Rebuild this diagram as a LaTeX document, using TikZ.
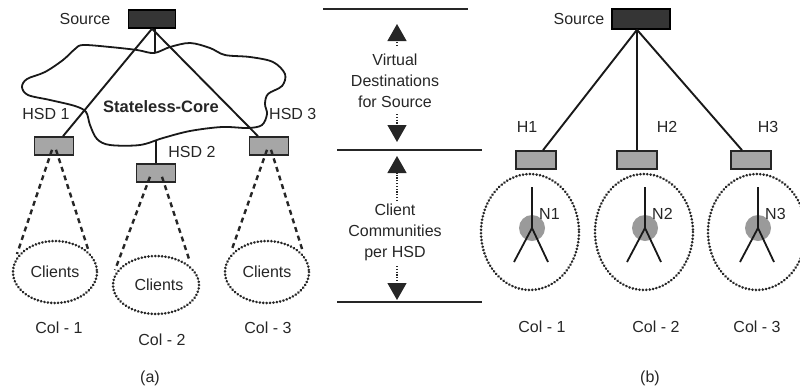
\documentclass[tikz,border=0pt]{standalone}
\usepackage{fontspec}
\setmainfont{Liberation Sans}
\usetikzlibrary{arrows.meta}
\definecolor{txt}{HTML}{262626}
\definecolor{srcfill}{HTML}{353535}
\definecolor{hfill}{HTML}{A6A6A6}
\definecolor{nfill}{HTML}{9A9A9A}
\tikzset{
  lbl/.style={font=\fontsize{16}{21}\selectfont, text=txt, inner sep=0pt, align=center},
  srcbox/.style={draw=black, line width=1.5pt, fill=srcfill, minimum width=47pt, minimum height=18pt, inner sep=0pt},
  hbox/.style={draw=black!85, line width=1.6pt, fill=hfill, minimum width=39pt, minimum height=18pt, inner sep=0pt},
  link/.style={line width=1.9pt, black!90},
  dashlink/.style={line width=2.4pt, black!85, dash pattern=on 5pt off 4pt},
  dotring/.style={line width=2.9pt, black!85, line cap=round, dash pattern=on 0.01pt off 3.4pt},
  nodedot/.style={circle, fill=nfill, minimum size=26pt, inner sep=0pt},
  leg/.style={line width=1.8pt, black!90},
  sep/.style={line width=1.5pt, black!85},
  varrow/.style={line width=1.3pt, black!85, dash pattern=on 1.2pt off 1.6pt, -{Triangle[width=19pt,length=17pt,sep=0pt]}},
}
\begin{document}
\begin{tikzpicture}[x=1pt,y=-1pt]
\useasboundingbox (0,0) rectangle (800,389);
% ---------------- (a) ----------------
\draw[line width=1.8pt, black!90] plot[smooth cycle, tension=0.55] coordinates {
 (83,45) (110,47) (137,50) (154,53) (170,47) (190,43) (210,48) (225,55) (250,57)
 (273,62) (285,74) (282,86) (268,94) (265,104) (267,114) (262,125) (248,128)
 (222,127) (190,131) (163,138) (140,145) (110,145) (97,139) (90,125) (86,112)
 (75,106) (50,100) (28,95) (22,87) (27,79) (45,72) (63,60) (75,49)};
\node[srcbox] (srcA) at (152,19) {};
\node[lbl] (srcAlbl) at (85,19) {Source};
\node[lbl, font=\fontsize{16.5}{21}\selectfont\bfseries] (core) at (161,107) {Stateless-Core};
\node[hbox] (hsd1) at (54,146) {};
\node[hbox] (hsd2) at (156,173) {};
\node[hbox] (hsd3) at (269,146) {};
\node[lbl] (l1) at (46,114) {HSD 1};
\node[lbl] (l2) at (192,152) {HSD 2};
\node[lbl, anchor=west] (l3) at (269,114) {HSD 3};
\coordinate (cloudtop) at (155,53);
\coordinate (cloudbot) at (156,140);
\draw[link] (srcA.south) -- ([xshift=9pt]hsd1.north);
\draw[link] (srcA.south) -- ([xshift=-11pt]hsd3.north);
\draw[link] ([xshift=3pt]srcA.south) -- (cloudtop);
\draw[link] (hsd2.north) -- (cloudbot);
% client ellipses
\draw[dotring] (55,272) ellipse [x radius=42, y radius=31];
\draw[dotring] (156,285) ellipse [x radius=43, y radius=29];
\draw[dotring] (267,272) ellipse [x radius=42, y radius=31];
\node[lbl] (c1) at (55,272) {Clients};
\node[lbl] (c2) at (159,285) {Clients};
\node[lbl] (c3) at (267,272) {Clients};
\coordinate (e1l) at (17,254);
\coordinate (e1r) at (88,249);
\coordinate (e2l) at (115,270);
\coordinate (e2r) at (189,259);
\coordinate (e3l) at (232,249);
\coordinate (e3r) at (303,252);
\draw[dashlink] ([yshift=6pt,xshift=-2pt]hsd1.south) -- (e1l);
\draw[dashlink] ([yshift=6pt,xshift=2pt]hsd1.south) -- (e1r);
\draw[dashlink] ([yshift=6pt,xshift=-6pt]hsd2.south) -- (e2l);
\draw[dashlink] ([yshift=6pt,xshift=6pt]hsd2.south) -- (e2r);
\draw[dashlink] ([yshift=6pt,xshift=-2pt]hsd3.south) -- (e3l);
\draw[dashlink] ([yshift=6pt,xshift=2pt]hsd3.south) -- (e3r);
\node[lbl] (col1a) at (59,328) {Col - 1};
\node[lbl] (col2a) at (162,340) {Col - 2};
\node[lbl] (col3a) at (268,328) {Col - 3};
\node[lbl] (capa) at (150,378) {(a)};
% ---------------- middle ----------------
\coordinate (s1a) at (323,9); \coordinate (s1b) at (468,9);
\coordinate (s2a) at (337,150); \coordinate (s2b) at (482,150);
\coordinate (s3a) at (337,302); \coordinate (s3b) at (482,302);
\draw[sep] (s1a) -- (s1b);
\draw[sep] (s2a) -- (s2b);
\draw[sep] (s3a) -- (s3b);
\node[lbl] (vd) at (395,81) {Virtual\\Destinations\\for Source};
\node[lbl] (cc) at (395,232) {Client\\Communities\\per HSD};
\coordinate (a1s) at (397,46); \coordinate (a1e) at (397,24);
\coordinate (a2s) at (397,114); \coordinate (a2e) at (397,142);
\coordinate (a3s) at (397,201); \coordinate (a3e) at (397,156);
\coordinate (a4s) at (397,266); \coordinate (a4e) at (397,300);
\draw[varrow] (a1s) -- (a1e);
\draw[varrow] (a2s) -- (a2e);
\draw[varrow] (a3s) -- (a3e);
\draw[varrow] (a4s) -- (a4e);
% ---------------- (b) ----------------
\node[srcbox, minimum width=58pt, minimum height=20pt] (srcB) at (641,19) {};
\node[lbl] (srcBlbl) at (579,19) {Source};
\node[hbox, minimum width=40pt] (h1) at (536,160) {};
\node[hbox, minimum width=40pt] (h2) at (637,160) {};
\node[hbox, minimum width=40pt] (h3) at (751,160) {};
\node[lbl] (h1l) at (527,127) {H1};
\node[lbl] (h2l) at (667,127) {H2};
\node[lbl] (h3l) at (768,127) {H3};
\draw[link] ([xshift=-4pt]srcB.south) -- ([xshift=7pt]h1.north);
\draw[link] ([xshift=-4pt]srcB.south) -- (h2.north);
\draw[link] ([xshift=-4pt]srcB.south) -- ([xshift=-9pt]h3.north);
\foreach \i/\cx/\nx in {1/530/532, 2/644/645, 3/757/758} {
  \draw[dotring] (\cx,232) ellipse [x radius=49, y radius=58];
  \node[nodedot] (n\i) at (\nx,228) {};
  \coordinate (t\i) at (\nx,187);
  \coordinate (ll\i) at (\nx-18,262);
  \coordinate (lr\i) at (\nx+16,262);
  \draw[leg] (t\i) -- (n\i.center);
  \draw[leg] (n\i.center) -- (ll\i);
  \draw[leg] (n\i.center) -- (lr\i);
  \node[lbl, anchor=west] (nl\i) at (\nx+7,214) {N\i};
}
\node[lbl] (col1b) at (542,327) {Col - 1};
\node[lbl] (col2b) at (656,327) {Col - 2};
\node[lbl] (col3b) at (757,327) {Col - 3};
\node[lbl] (capb) at (650,378) {(b)};
\end{tikzpicture}
\end{document}
